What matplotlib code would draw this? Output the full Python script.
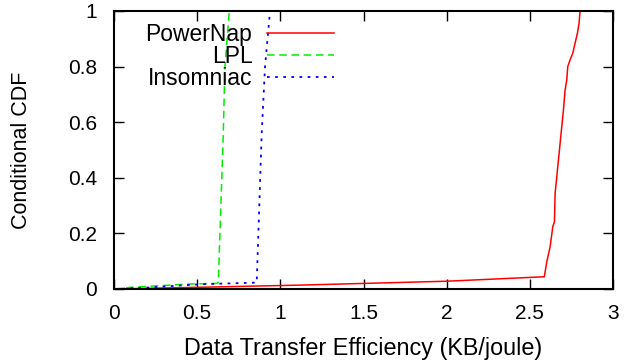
import matplotlib
matplotlib.use("Agg")
import matplotlib.pyplot as plt

plt.rcParams['font.family'] = ['Liberation Sans', 'DejaVu Sans']

powernap_x = [0.0, 0.5, 1.12, 2.0, 2.587, 2.602, 2.622, 2.638, 2.648, 2.652, 2.672, 2.688, 2.702, 2.712, 2.722, 2.728, 2.742, 2.758, 2.772, 2.786, 2.796, 2.802]
powernap_y = [0.0, 0.006, 0.014, 0.028, 0.044, 0.098, 0.152, 0.224, 0.242, 0.344, 0.464, 0.56, 0.644, 0.716, 0.752, 0.8, 0.824, 0.848, 0.884, 0.92, 0.956, 1.0]

lpl_x = [0.0, 0.1, 0.457, 0.617, 0.627, 0.637, 0.657, 0.667, 0.693]
lpl_y = [0.0, 0.006, 0.018, 0.02, 0.024, 0.2, 0.56, 0.8, 1.0]

insomniac_x = [0.0, 0.2, 0.517, 0.858, 0.888, 0.908, 0.938]
insomniac_y = [0.0, 0.005, 0.017, 0.023, 0.56, 0.8, 1.0]

x_ticks = [0, 0.5, 1, 1.5, 2, 2.5, 3]
x_tick_labels = ['0', '0.5', '1', '1.5', '2', '2.5', '3']
y_ticks = [0, 0.2, 0.4, 0.6, 0.8, 1]
y_tick_labels = ['0', '0.2', '0.4', '0.6', '0.8', '1']

fig = plt.figure(figsize=(6.24, 3.62), dpi=100)
ax = fig.add_axes([114/624, 1-289/362, (613-114)/624, (289-11)/362])

ax.plot(powernap_x, powernap_y, color='#ff0000', lw=1.1, label='PowerNap')
ax.plot(lpl_x, lpl_y, color='#00ee00', lw=1.1, dashes=(5, 3), label='LPL')
ax.plot(insomniac_x, insomniac_y, color='#0000ff', lw=1.3, dashes=(1.5, 3), label='Insomniac')

ax.set_xlim(0, 3)
ax.set_ylim(0, 1)
ax.set_xticks(x_ticks)
ax.set_xticklabels(x_tick_labels)
ax.set_yticks(y_ticks)
ax.set_yticklabels(y_tick_labels)
ax.tick_params(axis='both', direction='in', length=7, width=1, top=True, right=True, labelsize=15)
ax.tick_params(axis='x', pad=11)
ax.tick_params(axis='y', pad=12)
for s in ax.spines.values():
    s.set_linewidth(1.5)

ax.set_xlabel('Data Transfer Efficiency (KB/joule)', fontsize=16.8, labelpad=10)
ax.set_ylabel('Conditional CDF', fontsize=15.5, labelpad=26)

leg = ax.legend(loc='upper left', bbox_to_anchor=(0.045, 0.99), frameon=False, markerfirst=False,
                handlelength=2.9, handletextpad=0.65, labelspacing=-0.04, fontsize=16.5,
                borderaxespad=0.0)
for t in leg.get_texts():
    t.set_ha('right')

fig.savefig('out.png', dpi=100)
